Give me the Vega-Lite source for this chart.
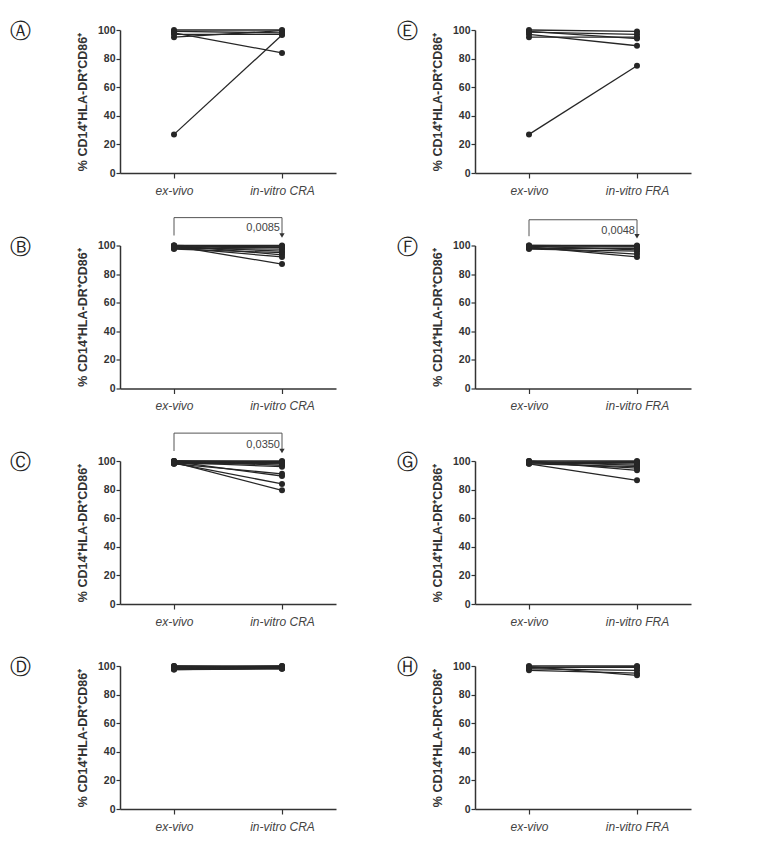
{
  "$schema": "https://vega.github.io/schema/vega-lite/v6.json",
  "background": "white",
  "padding": {"left": 10, "top": 21, "right": 5, "bottom": 5},
  "datasets": {
    "A": [
      {"subject": 1, "condition": "ex-vivo", "value": 100},
      {"subject": 2, "condition": "ex-vivo", "value": 99},
      {"subject": 3, "condition": "ex-vivo", "value": 98},
      {"subject": 4, "condition": "ex-vivo", "value": 95},
      {"subject": 5, "condition": "ex-vivo", "value": 27},
      {"subject": 6, "condition": "ex-vivo", "value": 97},
      {"subject": 1, "condition": "in-vitro CRA", "value": 100},
      {"subject": 2, "condition": "in-vitro CRA", "value": 98},
      {"subject": 3, "condition": "in-vitro CRA", "value": 84},
      {"subject": 4, "condition": "in-vitro CRA", "value": 99.5},
      {"subject": 5, "condition": "in-vitro CRA", "value": 96.5},
      {"subject": 6, "condition": "in-vitro CRA", "value": 97}
    ],
    "E": [
      {"subject": 1, "condition": "ex-vivo", "value": 100},
      {"subject": 2, "condition": "ex-vivo", "value": 98.5},
      {"subject": 3, "condition": "ex-vivo", "value": 97},
      {"subject": 4, "condition": "ex-vivo", "value": 95},
      {"subject": 5, "condition": "ex-vivo", "value": 27},
      {"subject": 6, "condition": "ex-vivo", "value": 99},
      {"subject": 1, "condition": "in-vitro FRA", "value": 99},
      {"subject": 2, "condition": "in-vitro FRA", "value": 97},
      {"subject": 3, "condition": "in-vitro FRA", "value": 89},
      {"subject": 4, "condition": "in-vitro FRA", "value": 95},
      {"subject": 5, "condition": "in-vitro FRA", "value": 75},
      {"subject": 6, "condition": "in-vitro FRA", "value": 94}
    ],
    "B": [
      {"subject": 1, "condition": "ex-vivo", "value": 100},
      {"subject": 2, "condition": "ex-vivo", "value": 99},
      {"subject": 3, "condition": "ex-vivo", "value": 100},
      {"subject": 4, "condition": "ex-vivo", "value": 98},
      {"subject": 5, "condition": "ex-vivo", "value": 99},
      {"subject": 6, "condition": "ex-vivo", "value": 97.5},
      {"subject": 7, "condition": "ex-vivo", "value": 100},
      {"subject": 8, "condition": "ex-vivo", "value": 98.5},
      {"subject": 9, "condition": "ex-vivo", "value": 99.5},
      {"subject": 10, "condition": "ex-vivo", "value": 98},
      {"subject": 1, "condition": "in-vitro CRA", "value": 100},
      {"subject": 2, "condition": "in-vitro CRA", "value": 99.5},
      {"subject": 3, "condition": "in-vitro CRA", "value": 98.5},
      {"subject": 4, "condition": "in-vitro CRA", "value": 97.5},
      {"subject": 5, "condition": "in-vitro CRA", "value": 96},
      {"subject": 6, "condition": "in-vitro CRA", "value": 95},
      {"subject": 7, "condition": "in-vitro CRA", "value": 93.5},
      {"subject": 8, "condition": "in-vitro CRA", "value": 92},
      {"subject": 9, "condition": "in-vitro CRA", "value": 87},
      {"subject": 10, "condition": "in-vitro CRA", "value": 99}
    ],
    "C": [
      {"subject": 1, "condition": "ex-vivo", "value": 100},
      {"subject": 2, "condition": "ex-vivo", "value": 99},
      {"subject": 3, "condition": "ex-vivo", "value": 98.5},
      {"subject": 4, "condition": "ex-vivo", "value": 100},
      {"subject": 5, "condition": "ex-vivo", "value": 99},
      {"subject": 6, "condition": "ex-vivo", "value": 98},
      {"subject": 7, "condition": "ex-vivo", "value": 99.5},
      {"subject": 8, "condition": "ex-vivo", "value": 98.5},
      {"subject": 9, "condition": "ex-vivo", "value": 99},
      {"subject": 10, "condition": "ex-vivo", "value": 100},
      {"subject": 11, "condition": "ex-vivo", "value": 98},
      {"subject": 1, "condition": "in-vitro CRA", "value": 100},
      {"subject": 2, "condition": "in-vitro CRA", "value": 99},
      {"subject": 3, "condition": "in-vitro CRA", "value": 98},
      {"subject": 4, "condition": "in-vitro CRA", "value": 97},
      {"subject": 5, "condition": "in-vitro CRA", "value": 96},
      {"subject": 6, "condition": "in-vitro CRA", "value": 91},
      {"subject": 7, "condition": "in-vitro CRA", "value": 89.5},
      {"subject": 8, "condition": "in-vitro CRA", "value": 84},
      {"subject": 9, "condition": "in-vitro CRA", "value": 79.5},
      {"subject": 10, "condition": "in-vitro CRA", "value": 99.5},
      {"subject": 11, "condition": "in-vitro CRA", "value": 98.5}
    ],
    "F": [
      {"subject": 1, "condition": "ex-vivo", "value": 100},
      {"subject": 2, "condition": "ex-vivo", "value": 99},
      {"subject": 3, "condition": "ex-vivo", "value": 98},
      {"subject": 4, "condition": "ex-vivo", "value": 99.5},
      {"subject": 5, "condition": "ex-vivo", "value": 97.5},
      {"subject": 6, "condition": "ex-vivo", "value": 98.5},
      {"subject": 7, "condition": "ex-vivo", "value": 99},
      {"subject": 8, "condition": "ex-vivo", "value": 100},
      {"subject": 1, "condition": "in-vitro FRA", "value": 100},
      {"subject": 2, "condition": "in-vitro FRA", "value": 99},
      {"subject": 3, "condition": "in-vitro FRA", "value": 98},
      {"subject": 4, "condition": "in-vitro FRA", "value": 97},
      {"subject": 5, "condition": "in-vitro FRA", "value": 96},
      {"subject": 6, "condition": "in-vitro FRA", "value": 94},
      {"subject": 7, "condition": "in-vitro FRA", "value": 92},
      {"subject": 8, "condition": "in-vitro FRA", "value": 99.5}
    ],
    "G": [
      {"subject": 1, "condition": "ex-vivo", "value": 100},
      {"subject": 2, "condition": "ex-vivo", "value": 99},
      {"subject": 3, "condition": "ex-vivo", "value": 98.5},
      {"subject": 4, "condition": "ex-vivo", "value": 99.5},
      {"subject": 5, "condition": "ex-vivo", "value": 98},
      {"subject": 6, "condition": "ex-vivo", "value": 99},
      {"subject": 7, "condition": "ex-vivo", "value": 100},
      {"subject": 8, "condition": "ex-vivo", "value": 98},
      {"subject": 9, "condition": "ex-vivo", "value": 99},
      {"subject": 1, "condition": "in-vitro FRA", "value": 100},
      {"subject": 2, "condition": "in-vitro FRA", "value": 99},
      {"subject": 3, "condition": "in-vitro FRA", "value": 98},
      {"subject": 4, "condition": "in-vitro FRA", "value": 97},
      {"subject": 5, "condition": "in-vitro FRA", "value": 96},
      {"subject": 6, "condition": "in-vitro FRA", "value": 95},
      {"subject": 7, "condition": "in-vitro FRA", "value": 93.5},
      {"subject": 8, "condition": "in-vitro FRA", "value": 86.5},
      {"subject": 9, "condition": "in-vitro FRA", "value": 99.5}
    ],
    "D": [
      {"subject": 1, "condition": "ex-vivo", "value": 100},
      {"subject": 2, "condition": "ex-vivo", "value": 99},
      {"subject": 3, "condition": "ex-vivo", "value": 98},
      {"subject": 4, "condition": "ex-vivo", "value": 97.5},
      {"subject": 5, "condition": "ex-vivo", "value": 99.5},
      {"subject": 6, "condition": "ex-vivo", "value": 98.5},
      {"subject": 7, "condition": "ex-vivo", "value": 99},
      {"subject": 8, "condition": "ex-vivo", "value": 98},
      {"subject": 9, "condition": "ex-vivo", "value": 100},
      {"subject": 10, "condition": "ex-vivo", "value": 97.5},
      {"subject": 1, "condition": "in-vitro CRA", "value": 100},
      {"subject": 2, "condition": "in-vitro CRA", "value": 99.5},
      {"subject": 3, "condition": "in-vitro CRA", "value": 99},
      {"subject": 4, "condition": "in-vitro CRA", "value": 98.5},
      {"subject": 5, "condition": "in-vitro CRA", "value": 98},
      {"subject": 6, "condition": "in-vitro CRA", "value": 99},
      {"subject": 7, "condition": "in-vitro CRA", "value": 100},
      {"subject": 8, "condition": "in-vitro CRA", "value": 98.5},
      {"subject": 9, "condition": "in-vitro CRA", "value": 99},
      {"subject": 10, "condition": "in-vitro CRA", "value": 98}
    ],
    "H": [
      {"subject": 1, "condition": "ex-vivo", "value": 100},
      {"subject": 2, "condition": "ex-vivo", "value": 99},
      {"subject": 3, "condition": "ex-vivo", "value": 98},
      {"subject": 4, "condition": "ex-vivo", "value": 97},
      {"subject": 5, "condition": "ex-vivo", "value": 99.5},
      {"subject": 6, "condition": "ex-vivo", "value": 98.5},
      {"subject": 1, "condition": "in-vitro FRA", "value": 100},
      {"subject": 2, "condition": "in-vitro FRA", "value": 99},
      {"subject": 3, "condition": "in-vitro FRA", "value": 97},
      {"subject": 4, "condition": "in-vitro FRA", "value": 95},
      {"subject": 5, "condition": "in-vitro FRA", "value": 93.5},
      {"subject": 6, "condition": "in-vitro FRA", "value": 99.5}
    ],
    "brCRA": [
      {"ord": 1, "condition": "ex-vivo", "value": 107},
      {"ord": 2, "condition": "ex-vivo", "value": 119.5},
      {"ord": 3, "condition": "in-vitro CRA", "value": 119.5},
      {"ord": 4, "condition": "in-vitro CRA", "value": 107}
    ],
    "brFRA": [
      {"ord": 1, "condition": "ex-vivo", "value": 106.5},
      {"ord": 2, "condition": "ex-vivo", "value": 118},
      {"ord": 3, "condition": "in-vitro FRA", "value": 118},
      {"ord": 4, "condition": "in-vitro FRA", "value": 106.5}
    ],
    "labB": [{"condition": "in-vitro CRA", "value": 112, "label": "0,0085"}],
    "labC": [{"condition": "in-vitro CRA", "value": 111, "label": "0,0350"}],
    "labF": [{"condition": "in-vitro FRA", "value": 110, "label": "0,0048"}]
  },
  "hconcat": [
    {
      "vconcat": [
        {
          "vconcat": [
            {
              "width": 216, "height": 143,
              "title": {"text": "Ⓐ", "offset": 24},
              "encoding": {
                "x": {"field": "condition", "type": "nominal", "scale": {"type": "point", "padding": 0.5, "domain": ["ex-vivo", "in-vitro CRA"]}, "axis": {"title": null}},
                "y": {"field": "value", "type": "quantitative", "scale": {"domain": [0, 100], "nice": false}, "axis": {"title": "% CD14⁺HLA-DR⁺CD86⁺", "values": [0, 20, 40, 60, 80, 100]}}
              },
              "layer": [
                {"data": {"name": "A"}, "mark": {"type": "line", "color": "#262626", "strokeWidth": 1.3}, "encoding": {"detail": {"field": "subject", "type": "nominal"}}},
                {"data": {"name": "A"}, "mark": {"type": "point", "filled": true, "size": 36, "color": "#262626", "opacity": 1}}
              ]
            },
            {
              "width": 216, "height": 143,
              "title": {"text": "Ⓑ", "offset": 24},
              "encoding": {
                "x": {"field": "condition", "type": "nominal", "scale": {"type": "point", "padding": 0.5, "domain": ["ex-vivo", "in-vitro CRA"]}, "axis": {"title": null}},
                "y": {"field": "value", "type": "quantitative", "scale": {"domain": [0, 100], "nice": false}, "axis": {"title": "% CD14⁺HLA-DR⁺CD86⁺", "values": [0, 20, 40, 60, 80, 100]}}
              },
              "layer": [
                {"data": {"name": "B"}, "mark": {"type": "line", "color": "#262626", "strokeWidth": 1.3}, "encoding": {"detail": {"field": "subject", "type": "nominal"}}},
                {"data": {"name": "B"}, "mark": {"type": "point", "filled": true, "size": 36, "color": "#262626", "opacity": 1}},
                {"data": {"name": "brCRA"}, "mark": {"type": "line", "color": "#555555", "strokeWidth": 1}, "encoding": {"order": {"field": "ord", "type": "quantitative"}}},
                {"data": {"name": "brCRA"}, "transform": [{"filter": "datum.ord == 4"}], "mark": {"type": "point", "shape": "triangle-down", "filled": true, "size": 28, "color": "#333333", "opacity": 1}},
                {"data": {"name": "labB"}, "mark": {"type": "text", "align": "right", "dx": -2, "baseline": "middle", "fontSize": 11, "color": "#444444", "font": "Liberation Sans"}, "encoding": {"text": {"field": "label"}}}
              ]
            },
            {
              "width": 216, "height": 143,
              "title": {"text": "Ⓒ", "offset": 24},
              "encoding": {
                "x": {"field": "condition", "type": "nominal", "scale": {"type": "point", "padding": 0.5, "domain": ["ex-vivo", "in-vitro CRA"]}, "axis": {"title": null}},
                "y": {"field": "value", "type": "quantitative", "scale": {"domain": [0, 100], "nice": false}, "axis": {"title": "% CD14⁺HLA-DR⁺CD86⁺", "values": [0, 20, 40, 60, 80, 100]}}
              },
              "layer": [
                {"data": {"name": "C"}, "mark": {"type": "line", "color": "#262626", "strokeWidth": 1.3}, "encoding": {"detail": {"field": "subject", "type": "nominal"}}},
                {"data": {"name": "C"}, "mark": {"type": "point", "filled": true, "size": 36, "color": "#262626", "opacity": 1}},
                {"data": {"name": "brCRA"}, "mark": {"type": "line", "color": "#555555", "strokeWidth": 1}, "encoding": {"order": {"field": "ord", "type": "quantitative"}}},
                {"data": {"name": "brCRA"}, "transform": [{"filter": "datum.ord == 4"}], "mark": {"type": "point", "shape": "triangle-down", "filled": true, "size": 28, "color": "#333333", "opacity": 1}},
                {"data": {"name": "labC"}, "mark": {"type": "text", "align": "right", "dx": -2, "baseline": "middle", "fontSize": 11, "color": "#444444", "font": "Liberation Sans"}, "encoding": {"text": {"field": "label"}}}
              ]
            }
          ],
          "spacing": 72.5,
          "bounds": "flush"
        },
        {
          "width": 216, "height": 143,
          "title": {"text": "Ⓓ", "offset": 24},
          "encoding": {
            "x": {"field": "condition", "type": "nominal", "scale": {"type": "point", "padding": 0.5, "domain": ["ex-vivo", "in-vitro CRA"]}, "axis": {"title": null}},
            "y": {"field": "value", "type": "quantitative", "scale": {"domain": [0, 100], "nice": false}, "axis": {"title": "% CD14⁺HLA-DR⁺CD86⁺", "values": [0, 20, 40, 60, 80, 100]}}
          },
          "layer": [
            {"data": {"name": "D"}, "mark": {"type": "line", "color": "#262626", "strokeWidth": 1.3}, "encoding": {"detail": {"field": "subject", "type": "nominal"}}},
            {"data": {"name": "D"}, "mark": {"type": "point", "filled": true, "size": 36, "color": "#262626", "opacity": 1}}
          ]
        }
      ],
      "spacing": 30,
      "bounds": "full"
    },
    {
      "vconcat": [
        {
          "vconcat": [
            {
              "width": 216, "height": 143,
              "title": {"text": "Ⓔ", "offset": -8},
              "encoding": {
                "x": {"field": "condition", "type": "nominal", "scale": {"type": "point", "padding": 0.5, "domain": ["ex-vivo", "in-vitro FRA"]}, "axis": {"title": null}},
                "y": {"field": "value", "type": "quantitative", "scale": {"domain": [0, 100], "nice": false}, "axis": {"title": "% CD14⁺HLA-DR⁺CD86⁺", "values": [0, 20, 40, 60, 80, 100]}}
              },
              "layer": [
                {"data": {"name": "E"}, "mark": {"type": "line", "color": "#262626", "strokeWidth": 1.3}, "encoding": {"detail": {"field": "subject", "type": "nominal"}}},
                {"data": {"name": "E"}, "mark": {"type": "point", "filled": true, "size": 36, "color": "#262626", "opacity": 1}}
              ]
            },
            {
              "width": 216, "height": 143,
              "title": {"text": "Ⓕ", "offset": -8},
              "encoding": {
                "x": {"field": "condition", "type": "nominal", "scale": {"type": "point", "padding": 0.5, "domain": ["ex-vivo", "in-vitro FRA"]}, "axis": {"title": null}},
                "y": {"field": "value", "type": "quantitative", "scale": {"domain": [0, 100], "nice": false}, "axis": {"title": "% CD14⁺HLA-DR⁺CD86⁺", "values": [0, 20, 40, 60, 80, 100]}}
              },
              "layer": [
                {"data": {"name": "F"}, "mark": {"type": "line", "color": "#262626", "strokeWidth": 1.3}, "encoding": {"detail": {"field": "subject", "type": "nominal"}}},
                {"data": {"name": "F"}, "mark": {"type": "point", "filled": true, "size": 36, "color": "#262626", "opacity": 1}},
                {"data": {"name": "brFRA"}, "mark": {"type": "line", "color": "#555555", "strokeWidth": 1}, "encoding": {"order": {"field": "ord", "type": "quantitative"}}},
                {"data": {"name": "brFRA"}, "transform": [{"filter": "datum.ord == 4"}], "mark": {"type": "point", "shape": "triangle-down", "filled": true, "size": 28, "color": "#333333", "opacity": 1}},
                {"data": {"name": "labF"}, "mark": {"type": "text", "align": "right", "dx": -2, "baseline": "middle", "fontSize": 11, "color": "#444444", "font": "Liberation Sans"}, "encoding": {"text": {"field": "label"}}}
              ]
            },
            {
              "width": 216, "height": 143,
              "title": {"text": "Ⓖ", "offset": -8},
              "encoding": {
                "x": {"field": "condition", "type": "nominal", "scale": {"type": "point", "padding": 0.5, "domain": ["ex-vivo", "in-vitro FRA"]}, "axis": {"title": null}},
                "y": {"field": "value", "type": "quantitative", "scale": {"domain": [0, 100], "nice": false}, "axis": {"title": "% CD14⁺HLA-DR⁺CD86⁺", "values": [0, 20, 40, 60, 80, 100]}}
              },
              "layer": [
                {"data": {"name": "G"}, "mark": {"type": "line", "color": "#262626", "strokeWidth": 1.3}, "encoding": {"detail": {"field": "subject", "type": "nominal"}}},
                {"data": {"name": "G"}, "mark": {"type": "point", "filled": true, "size": 36, "color": "#262626", "opacity": 1}}
              ]
            }
          ],
          "spacing": 72.5,
          "bounds": "flush"
        },
        {
          "width": 216, "height": 143,
          "title": {"text": "Ⓗ", "offset": -8},
          "encoding": {
            "x": {"field": "condition", "type": "nominal", "scale": {"type": "point", "padding": 0.5, "domain": ["ex-vivo", "in-vitro FRA"]}, "axis": {"title": null}},
            "y": {"field": "value", "type": "quantitative", "scale": {"domain": [0, 100], "nice": false}, "axis": {"title": "% CD14⁺HLA-DR⁺CD86⁺", "values": [0, 20, 40, 60, 80, 100]}}
          },
          "layer": [
            {"data": {"name": "H"}, "mark": {"type": "line", "color": "#262626", "strokeWidth": 1.3}, "encoding": {"detail": {"field": "subject", "type": "nominal"}}},
            {"data": {"name": "H"}, "mark": {"type": "point", "filled": true, "size": 36, "color": "#262626", "opacity": 1}}
          ]
        }
      ],
      "spacing": 30,
      "bounds": "full"
    }
  ],
  "spacing": 61,
  "config": {
    "view": {"stroke": null},
    "font": "Liberation Sans",
    "axis": {"grid": false, "domainColor": "#333333", "tickColor": "#333333", "domainWidth": 1.5, "tickWidth": 1.2, "labelFont": "Liberation Sans", "titleFont": "Liberation Sans"},
    "axisX": {"labelFontStyle": "italic", "labelFontSize": 12, "labelColor": "#444444", "tickSize": 5, "labelPadding": 7, "labelAngle": 0},
    "axisY": {"labelFontWeight": "bold", "labelFontSize": 10.5, "labelColor": "#333333", "tickSize": 4, "labelPadding": 1, "titleFontSize": 12.5, "titleFontWeight": "bold", "titleColor": "#333333", "titlePadding": 8},
    "title": {"orient": "left", "anchor": "end", "angle": 0, "frame": "group", "fontSize": 21, "fontWeight": "normal", "font": "DejaVu Sans", "color": "#222222", "align": "right", "baseline": "middle", "dy": -9}
  }
}
